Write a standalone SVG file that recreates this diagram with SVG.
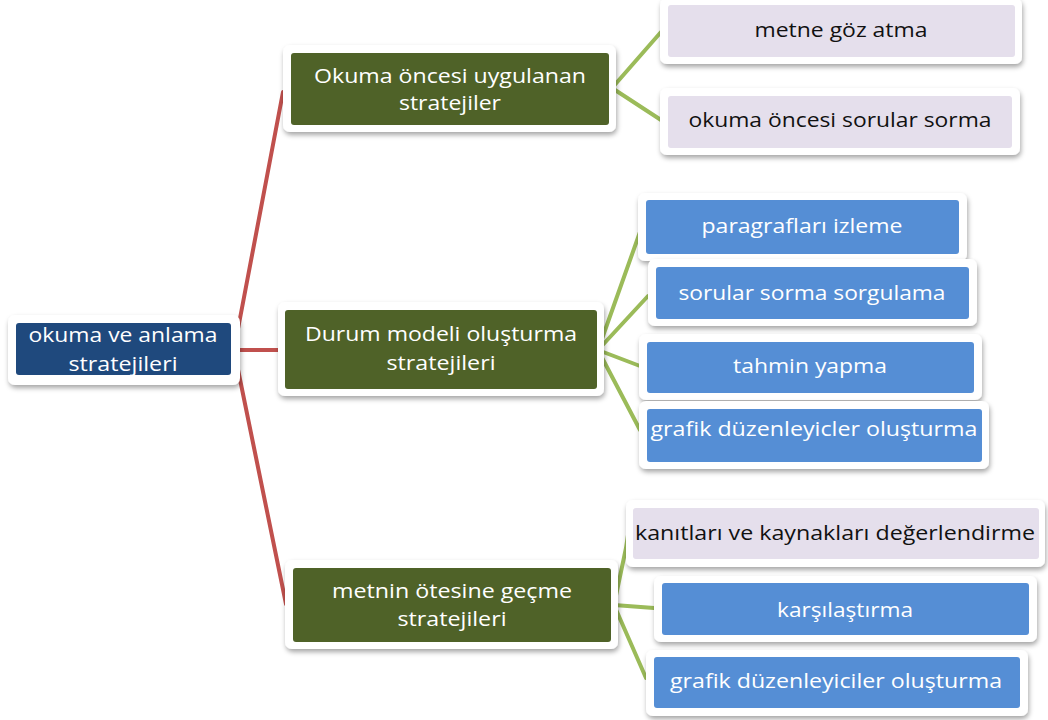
<svg xmlns="http://www.w3.org/2000/svg" width="1048" height="720" viewBox="0 0 1048 720">
<defs>
<filter id="sh" x="-10%" y="-20%" width="120%" height="150%">
<feDropShadow dx="1" dy="3" stdDeviation="2.5" flood-color="#000" flood-opacity="0.35"/>
</filter>
</defs>
<style>
.outer{fill:#fff;filter:url(#sh)}
.root{fill:#1F497D}
.green{fill:#4F6228}
.blue{fill:#558ED5}
.lav{fill:#E5DFEC}
text{font-family:"Open Sans","Noto Sans",sans-serif;font-size:20px;text-anchor:middle}
.w{fill:#fff}
.k{fill:#111}
.red{stroke:#C0504D;stroke-width:4;fill:none;stroke-linecap:round}
.grn{stroke:#9BBB59;stroke-width:4;fill:none;stroke-linecap:round}
</style>
<rect width="1048" height="720" fill="#fff"/>
<g id="connectors">
<path class="red" d="M234 350 L283 92 M234 350 L282 350 M234 350 L286 604"/>
<path class="grn" d="M612 88 L661 32 M612 88 L661 120"/>
<path class="grn" d="M598 350 L640 232 M598 350 L648 296 M598 350 L640 366 M598 350 L640 430"/>
<path class="grn" d="M614 605 L626 548 Q630 520 634 508 M614 605 L654 608 M614 605 L646 678"/>
</g>
<g id="n-root">
<rect class="outer" x="8" y="315" width="232" height="70" rx="7"/>
<rect class="root" x="16" y="323" width="215" height="52" rx="3"/>
<text class="w" x="123" y="342" textLength="189" lengthAdjust="spacingAndGlyphs">okuma ve anlama</text>
<text class="w" x="123" y="371" textLength="109" lengthAdjust="spacingAndGlyphs">stratejileri</text>
</g>
<g id="n-okuma-oncesi">
<rect class="outer" x="283" y="45" width="333" height="87" rx="7"/>
<rect class="green" x="291" y="53" width="318" height="72" rx="3"/>
<text class="w" x="450" y="83" textLength="272" lengthAdjust="spacingAndGlyphs">Okuma öncesi uygulanan</text>
<text class="w" x="450" y="110" textLength="102" lengthAdjust="spacingAndGlyphs">stratejiler</text>
</g>
<g id="n-durum">
<rect class="outer" x="278" y="302" width="326" height="94" rx="7"/>
<rect class="green" x="285" y="310" width="312" height="79" rx="3"/>
<text class="w" x="441" y="341" textLength="272" lengthAdjust="spacingAndGlyphs">Durum modeli oluşturma</text>
<text class="w" x="441" y="370" textLength="109" lengthAdjust="spacingAndGlyphs">stratejileri</text>
</g>
<g id="n-metnin">
<rect class="outer" x="285" y="560" width="333" height="89" rx="7"/>
<rect class="green" x="293" y="568" width="318" height="74" rx="3"/>
<text class="w" x="452" y="598" textLength="240" lengthAdjust="spacingAndGlyphs">metnin ötesine geçme</text>
<text class="w" x="452" y="626" textLength="109" lengthAdjust="spacingAndGlyphs">stratejileri</text>
</g>
<g id="n-metne-goz">
<rect class="outer" x="660" y="-2" width="362" height="66" rx="7"/>
<rect class="lav" x="668" y="5" width="347" height="52" rx="3"/>
<text class="k" x="841" y="37" textLength="173" lengthAdjust="spacingAndGlyphs">metne göz atma</text>
</g>
<g id="n-okuma-sorular">
<rect class="outer" x="660" y="88" width="360" height="67" rx="7"/>
<rect class="lav" x="668" y="96" width="344" height="52" rx="3"/>
<text class="k" x="840" y="127" textLength="303" lengthAdjust="spacingAndGlyphs">okuma öncesi sorular sorma</text>
</g>
<g id="n-paragraflari">
<rect class="outer" x="638" y="193" width="329" height="68" rx="7"/>
<rect class="blue" x="646" y="200" width="313" height="54" rx="3"/>
<text class="w" x="802" y="233" textLength="201" lengthAdjust="spacingAndGlyphs">paragrafları izleme</text>
</g>
<g id="n-sorular-sorma">
<rect class="outer" x="648" y="259" width="329" height="67" rx="7"/>
<rect class="blue" x="656" y="267" width="313" height="52" rx="3"/>
<text class="w" x="812" y="300" textLength="267" lengthAdjust="spacingAndGlyphs">sorular sorma sorgulama</text>
</g>
<g id="n-tahmin">
<rect class="outer" x="639" y="334" width="343" height="66" rx="7"/>
<rect class="blue" x="647" y="342" width="327" height="51" rx="3"/>
<text class="w" x="810" y="373" textLength="154" lengthAdjust="spacingAndGlyphs">tahmin yapma</text>
</g>
<g id="n-grafik1">
<rect class="outer" x="639" y="401" width="350" height="68" rx="7"/>
<rect class="blue" x="647" y="409" width="335" height="53" rx="3"/>
<text class="w" x="814" y="436" textLength="327" lengthAdjust="spacingAndGlyphs">grafik düzenleyicler oluşturma</text>
</g>
<g id="n-kanitlari">
<rect class="outer" x="626" y="500" width="419" height="67" rx="7"/>
<rect class="lav" x="633" y="508" width="406" height="51" rx="3"/>
<text class="k" x="835" y="540" textLength="400" lengthAdjust="spacingAndGlyphs">kanıtları ve kaynakları değerlendirme</text>
</g>
<g id="n-karsilastirma">
<rect class="outer" x="654" y="576" width="383" height="66" rx="7"/>
<rect class="blue" x="662" y="583" width="367" height="52" rx="3"/>
<text class="w" x="845" y="617" textLength="136" lengthAdjust="spacingAndGlyphs">karşılaştırma</text>
</g>
<g id="n-grafik2">
<rect class="outer" x="646" y="650" width="382" height="66" rx="7"/>
<rect class="blue" x="654" y="657" width="366" height="51" rx="3"/>
<text class="w" x="836" y="688" textLength="332" lengthAdjust="spacingAndGlyphs">grafik düzenleyiciler oluşturma</text>
</g>
</svg>
